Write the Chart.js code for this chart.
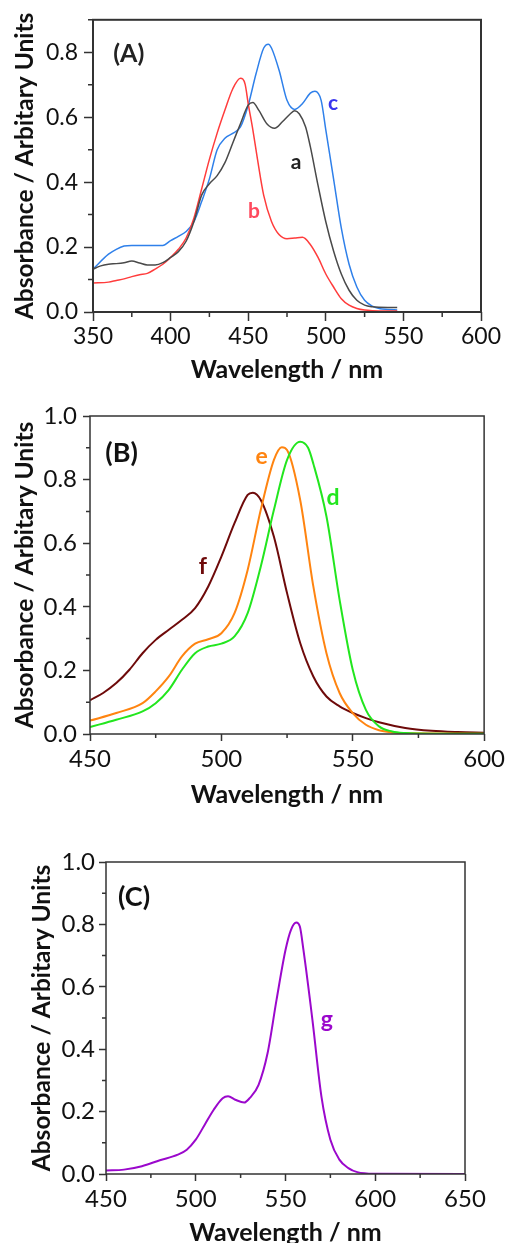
<!DOCTYPE html>
<html>
<head>
<meta charset="utf-8">
<script src="https://cdn.jsdelivr.net/npm/chart.js@4"></script>
<style>
  html, body { margin: 0; background: #fff; overflow: hidden; width: 509px; height: 1243px; }
  canvas { position: absolute; left: 0; }
</style>
</head>
<body>
<canvas id="chartA" width="509" height="390" style="top:0"></canvas>
<canvas id="chartB" width="509" height="420" style="top:390px"></canvas>
<canvas id="chartC" width="509" height="450" style="top:810px"></canvas>
<script>
// (A) spectra a, b, c
const aWl = [350, 355, 360, 365, 370, 375, 380, 385, 390, 395, 400, 405, 410, 415, 420, 425, 430, 435, 440, 445, 450, 453, 457, 462, 467, 472, 477, 480, 483, 487, 490, 495, 500, 505, 510, 515, 520, 525, 530, 540, 546];
const aAbs = [0.132, 0.142, 0.147, 0.149, 0.152, 0.157, 0.151, 0.145, 0.145, 0.152, 0.168, 0.186, 0.218, 0.278, 0.36, 0.395, 0.42, 0.46, 0.52, 0.58, 0.637, 0.645, 0.62, 0.58, 0.566, 0.586, 0.61, 0.62, 0.61, 0.57, 0.51, 0.39, 0.278, 0.188, 0.117, 0.067, 0.036, 0.021, 0.016, 0.014, 0.014];

const bWl = [350, 360, 365, 370, 375, 380, 385, 390, 395, 400, 405, 410, 415, 420, 425, 430, 435, 440, 445, 448, 450, 453, 456, 460, 465, 470, 475, 480, 485, 490, 495, 500, 505, 510, 515, 520, 525, 530, 540, 546];
const bAbs = [0.089, 0.092, 0.097, 0.102, 0.109, 0.115, 0.119, 0.132, 0.147, 0.168, 0.193, 0.228, 0.289, 0.379, 0.47, 0.551, 0.622, 0.687, 0.72, 0.702, 0.642, 0.561, 0.47, 0.359, 0.279, 0.238, 0.226, 0.228, 0.23, 0.208, 0.168, 0.117, 0.077, 0.041, 0.021, 0.011, 0.006, 0.004, 0.003, 0.003];

const cWl = [350, 360, 365, 370, 375, 380, 385, 390, 395, 400, 405, 410, 415, 420, 425, 430, 435, 440, 445, 450, 455, 460, 463, 465, 470, 475, 480, 485, 490, 493, 497, 500, 505, 510, 515, 520, 525, 530, 535, 540, 546];
const cAbs = [0.132, 0.178, 0.193, 0.203, 0.205, 0.205, 0.205, 0.205, 0.205, 0.22, 0.233, 0.248, 0.278, 0.34, 0.41, 0.5, 0.535, 0.55, 0.57, 0.637, 0.733, 0.813, 0.825, 0.813, 0.743, 0.652, 0.624, 0.642, 0.674, 0.68, 0.652, 0.561, 0.41, 0.258, 0.147, 0.077, 0.036, 0.018, 0.01, 0.008, 0.006];

// (B) spectra d, e, f
const dWl = [450, 460, 470, 475, 480, 485, 490, 495, 500, 505, 510, 515, 520, 525, 530, 533, 535, 540, 545, 550, 555, 560, 565, 570, 580, 600];
const dAbs = [0.022, 0.045, 0.071, 0.097, 0.139, 0.202, 0.254, 0.275, 0.284, 0.307, 0.38, 0.527, 0.705, 0.862, 0.919, 0.9, 0.85, 0.684, 0.422, 0.202, 0.076, 0.024, 0.008, 0.003, 0.001, 0.001];

const eWl = [450, 460, 470, 475, 480, 485, 490, 495, 500, 505, 510, 515, 520, 523, 525, 530, 535, 540, 545, 550, 555, 560, 565, 570, 600];
const eAbs = [0.042, 0.066, 0.097, 0.134, 0.181, 0.244, 0.284, 0.298, 0.317, 0.38, 0.516, 0.705, 0.862, 0.902, 0.893, 0.736, 0.464, 0.254, 0.129, 0.066, 0.029, 0.012, 0.005, 0.002, 0.001];

const fWl = [450, 455, 460, 465, 470, 475, 480, 485, 490, 495, 500, 505, 510, 512, 515, 520, 525, 530, 535, 540, 545, 550, 555, 560, 570, 580, 590, 600];
const fAbs = [0.106, 0.129, 0.16, 0.202, 0.254, 0.296, 0.328, 0.359, 0.396, 0.464, 0.558, 0.663, 0.752, 0.759, 0.736, 0.62, 0.443, 0.286, 0.181, 0.118, 0.087, 0.066, 0.05, 0.037, 0.019, 0.01, 0.006, 0.004];

// (C) spectrum g
const gWl = [450, 460, 470, 480, 490, 495, 500, 505, 510, 515, 518, 522, 527, 530, 535, 540, 545, 550, 553, 556, 558, 560, 565, 570, 575, 580, 585, 590, 600, 650];
const gAbs = [0.011, 0.014, 0.025, 0.044, 0.062, 0.078, 0.11, 0.158, 0.206, 0.243, 0.249, 0.238, 0.229, 0.243, 0.286, 0.387, 0.558, 0.718, 0.782, 0.806, 0.793, 0.718, 0.494, 0.249, 0.11, 0.046, 0.019, 0.006, 0.001, 0.0];

const xTitle = 'Wavelength / nm';
const yTitle = 'Absorbance / Arbitary Units';

const pts = (xs, ys) => xs.map((w, i) => ({ x: w, y: ys[i] }));

Chart.defaults.font.family = 'Lato';

// box round the plot area plus the short minor ticks
const framePlugin = {
  id: 'frame',
  afterDraw(chart, args, opts) {
    const { ctx, chartArea: a, scales: { x, y } } = chart;
    ctx.save();
    ctx.strokeStyle = opts.color;
    ctx.lineWidth = opts.width;
    ctx.strokeRect(a.left, a.top, a.right - a.left, a.bottom - a.top);
    ctx.lineWidth = opts.tickWidth;
    ctx.beginPath();
    for (let v = x.min + opts.minorX; v < x.max; v += 2 * opts.minorX) {
      const px = x.getPixelForValue(v);
      ctx.moveTo(px, a.bottom);
      ctx.lineTo(px, a.bottom + opts.minorLen);
    }
    for (let v = y.min + opts.minorY; v <= y.max + 1e-9; v += 2 * opts.minorY) {
      const py = y.getPixelForValue(v);
      ctx.moveTo(a.left, py);
      ctx.lineTo(a.left - opts.minorLen, py);
    }
    ctx.stroke();
    ctx.restore();
  }
};

// curve names and panel letters placed in data coordinates
const notesPlugin = {
  id: 'notes',
  afterDatasetsDraw(chart, args, opts) {
    const { ctx, scales: { x, y } } = chart;
    ctx.save();
    ctx.textAlign = 'center';
    ctx.textBaseline = 'middle';
    for (const n of opts.items) {
      ctx.font = `bold ${n.size}px Lato`;
      ctx.fillStyle = n.color;
      ctx.fillText(n.text, x.getPixelForValue(n.x), y.getPixelForValue(n.y));
    }
    ctx.restore();
  }
};

function line(data, color, width) {
  return {
    data, borderColor: color, borderWidth: width, pointRadius: 0,
    fill: false, tension: 0.35, cubicInterpolationMode: 'monotone'
  };
}

function makeChart(id, p) {
  return new Chart(document.getElementById(id), {
    type: 'line',
    data: { datasets: p.datasets },
    options: {
      responsive: false,
      animation: false,
      layout: { padding: p.padding },
      plugins: {
        legend: { display: false },
        tooltip: { enabled: false },
        frame: { color: '#333', width: p.frameWidth, tickWidth: 1.5, minorX: 25, minorY: 0.1, minorLen: p.minorLen },
        notes: { items: p.notes }
      },
      scales: {
        x: {
          type: 'linear', min: p.xMin, max: p.xMax,
          border: { display: false },
          grid: { drawOnChartArea: false, tickLength: p.tickLen, tickColor: '#333', tickWidth: 1.5 },
          ticks: { stepSize: 50, maxRotation: 0, autoSkip: false, includeBounds: false, color: '#111', padding: p.xTickPad, font: { size: p.tickSize } },
          title: { display: true, text: xTitle, color: '#111', padding: 0, font: { size: 25, weight: 'bold', lineHeight: 1.2 } },
          afterFit(s) { s.height = p.xHeight; }
        },
        y: {
          type: 'linear', min: 0, max: p.yMax,
          border: { display: false },
          grid: { drawOnChartArea: false, tickLength: p.tickLen, tickColor: '#333', tickWidth: 1.5 },
          ticks: { stepSize: 0.2, includeBounds: false, color: '#111', padding: p.yTickPad, font: { size: p.tickSize }, callback: v => v.toFixed(1) },
          title: { display: true, text: yTitle, color: '#111', padding: 0, font: { size: 24.5, weight: 'bold', lineHeight: 1.2 } },
          afterFit(s) { s.width = p.yWidth; }
        }
      }
    },
    plugins: [framePlugin, notesPlugin]
  });
}

makeChart('chartA', {
  datasets: [
    { ...line(pts(aWl, aAbs), '#4a4a4a', 1.5), tension: 0 },
    { ...line(pts(bWl, bAbs), '#ff3c3c', 1.5), tension: 0 },
    { ...line(pts(cWl, cAbs), '#2f80ea', 1.5), tension: 0 }
  ],
  xMin: 350, xMax: 600, yMax: 0.9,
  padding: { left: 10.3, top: 14, right: 28, bottom: 5.3 },
  yWidth: 82.7, xHeight: 72.7,
  tickLen: 9, minorLen: 5, frameWidth: 2, tickSize: 23, xTickPad: 2, yTickPad: 6,
  notes: [
    { text: '(A)', x: 373, y: 0.794, size: 25, color: '#222' },
    { text: 'c', x: 504.6, y: 0.642, size: 21, color: '#3a36ee' },
    { text: 'a', x: 480.8, y: 0.46, size: 21, color: '#222' },
    { text: 'b', x: 453.7, y: 0.309, size: 21, color: '#ff4a5e' }
  ]
});

makeChart('chartB', {
  datasets: [
    line(pts(dWl, dAbs), '#22e61e', 2),
    line(pts(eWl, eAbs), '#ff8410', 2),
    line(pts(fWl, fAbs), '#6e0a0a', 2)
  ],
  xMin: 450, xMax: 600, yMax: 1.0,
  padding: { left: 10.3, top: 26, right: 22, bottom: 0.3 },
  yWidth: 79.7, xHeight: 75.7,
  tickLen: 7, minorLen: 4, frameWidth: 1.5, tickSize: 24, xTickPad: 4, yTickPad: 6,
  notes: [
    { text: '(B)', x: 462, y: 0.884, size: 27, color: '#111' },
    { text: 'e', x: 515.3, y: 0.871, size: 23, color: '#ff8410' },
    { text: 'd', x: 542.5, y: 0.742, size: 23, color: '#22e61e' },
    { text: 'f', x: 493, y: 0.528, size: 23, color: '#6e0a0a' }
  ]
});

makeChart('chartC', {
  datasets: [
    line(pts(gWl, gAbs), '#9b08cc', 2)
  ],
  xMin: 450, xMax: 650, yMax: 1.0,
  padding: { left: 27.3, top: 52, right: 44, bottom: 12.3 },
  yWidth: 78.7, xHeight: 73.7,
  tickLen: 7, minorLen: 4, frameWidth: 1.5, tickSize: 24, xTickPad: 4, yTickPad: 4,
  notes: [
    { text: '(C)', x: 465.6, y: 0.888, size: 27, color: '#111' },
    { text: 'g', x: 573, y: 0.494, size: 23, color: '#9b08cc' }
  ]
});
</script>
</body>
</html>
